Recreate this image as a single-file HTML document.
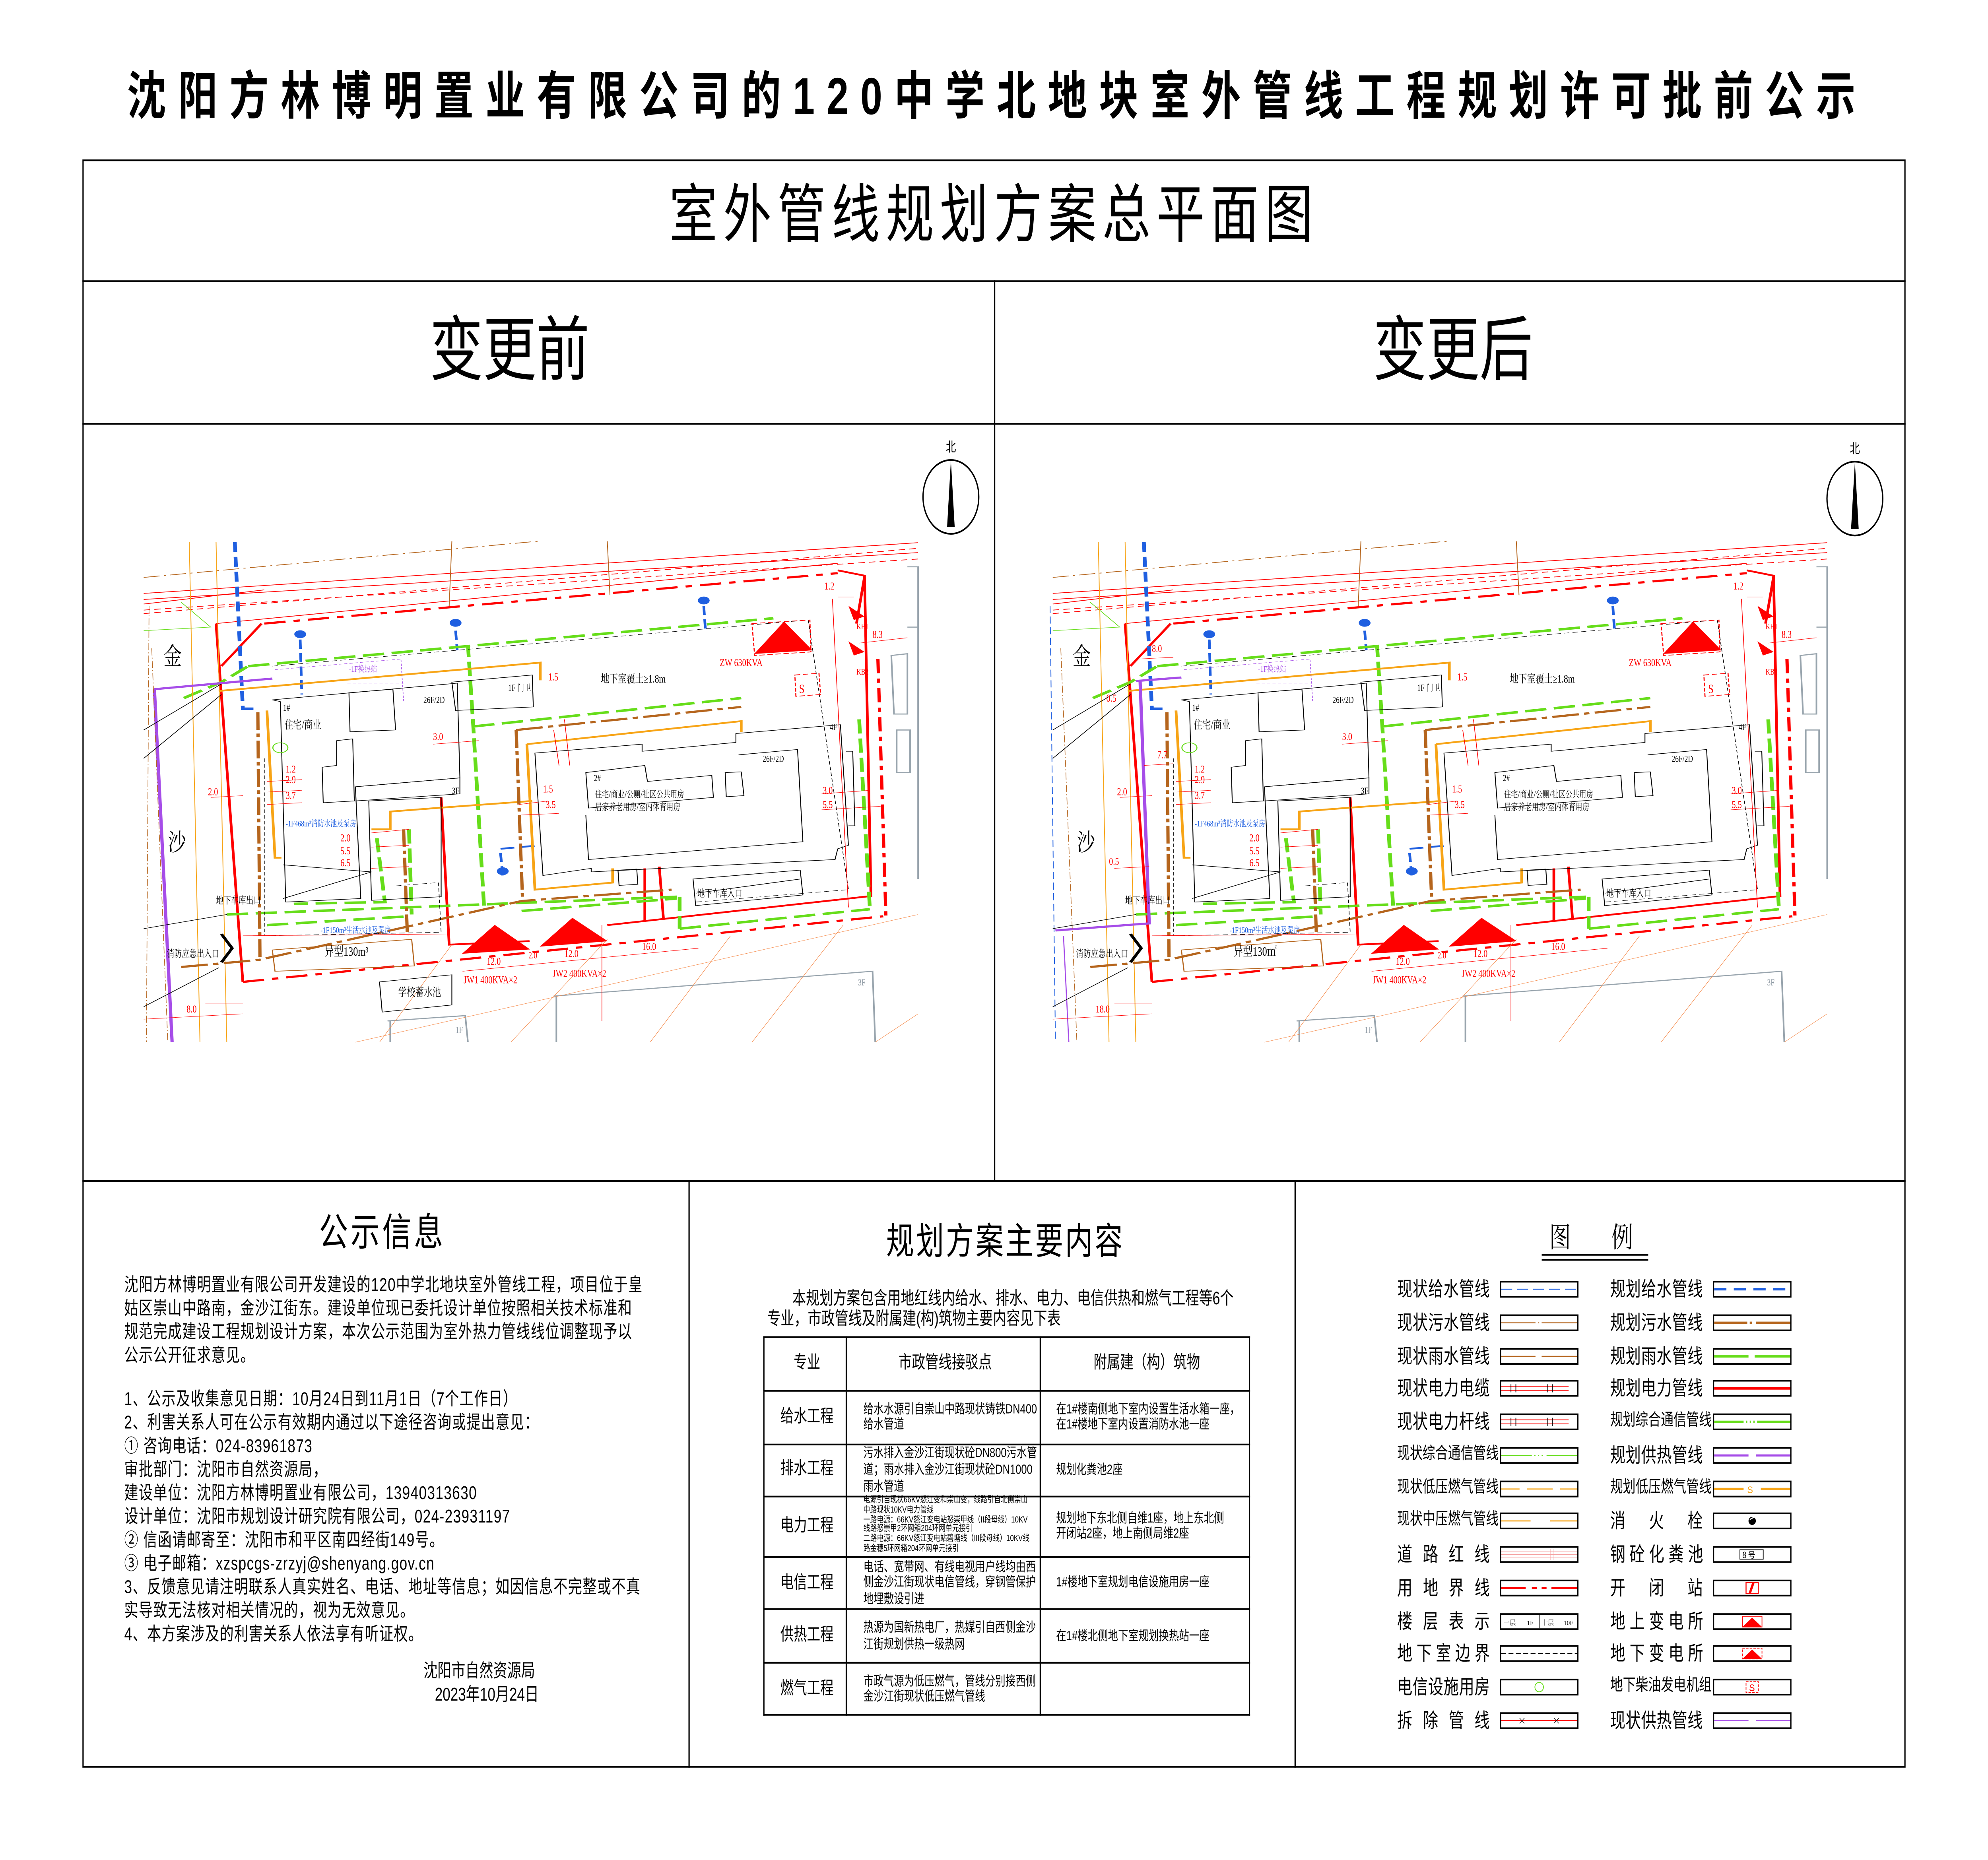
<!DOCTYPE html>
<html><head><meta charset="utf-8">
<style>
html,body{margin:0;padding:0;background:#fff;width:100vw;height:100vh;overflow:hidden;}
#root{position:absolute;left:0;top:0;width:100vw;height:100vh;display:block;}
#w{position:relative;width:1568px;height:1108px;font-family:"Liberation Sans","Noto Sans CJK SC",sans-serif;color:#000;background:#fff;overflow:hidden;}
.a{position:absolute;white-space:pre;line-height:1;}
.hl{position:absolute;height:0;border-top:1px solid #000;}
.vl{position:absolute;width:0;border-left:1px solid #000;}
.p{font-size:11px;letter-spacing:0.45px;left:98px;}
.lg{position:absolute;font-size:12px;width:73px;text-align:justify;text-align-last:justify;line-height:1;white-space:nowrap;}
.bx{position:absolute;width:62px;height:10px;border:1px solid #000;box-sizing:border-box;}
.bx svg{display:block;width:100%;height:100%;}
td{border:1px solid #000;padding:0 0 0 3px;}
</style></head><body>
<svg id="root" viewBox="0 0 1568 1108" preserveAspectRatio="none" xmlns="http://www.w3.org/2000/svg">
<foreignObject x="0" y="0" width="1568" height="1108">
<div xmlns="http://www.w3.org/1999/xhtml" id="w">
<div class="a" style="left:70px;top:42px;width:1433px;text-align:center;font-size:31px;font-weight:bold;letter-spacing:9.4px;">沈阳方林博明置业有限公司的120中学北地块室外管线工程规划许可批前公示</div>

<div style="position:absolute;left:65px;top:95px;width:1438px;height:958px;border:1px solid #000;box-sizing:border-box;"></div>
<div class="hl" style="left:65px;top:167px;width:1438px;"></div>
<div class="hl" style="left:65px;top:252px;width:1438px;"></div>
<div class="hl" style="left:65px;top:703px;width:1438px;"></div>
<div class="vl" style="left:784px;top:167px;height:536px;"></div>
<div class="vl" style="left:543px;top:703px;height:350px;"></div>
<div class="vl" style="left:1021px;top:703px;height:350px;"></div>

<div class="a" style="left:400px;top:110px;width:768px;text-align:center;font-size:38px;letter-spacing:4.7px;">室外管线规划方案总平面图</div>
<div class="a" style="left:300px;top:188px;width:204px;text-align:center;font-size:42px;">变更前</div>
<div class="a" style="left:1044px;top:188px;width:204px;text-align:center;font-size:42px;">变更后</div>

<svg style="position:absolute;left:720px;top:258px;" width="60" height="64" viewBox="0 0 60 64">
<text x="30" y="11" font-size="8" text-anchor="middle" font-family="Noto Sans CJK SC">北</text>
<circle cx="30" cy="38" r="22" fill="none" stroke="#000" stroke-width="1"/>
<path d="M30 16 L33 56 L27 56 Z" fill="#000"/></svg>
<svg style="position:absolute;left:1433px;top:259px;" width="60" height="64" viewBox="0 0 60 64">
<text x="30" y="11" font-size="8" text-anchor="middle" font-family="Noto Sans CJK SC">北</text>
<circle cx="30" cy="38" r="22" fill="none" stroke="#000" stroke-width="1"/>
<path d="M30 16 L33 56 L27 56 Z" fill="#000"/></svg>

<!-- MAP LEFT -->
<svg style="position:absolute;left:106.5px;top:307.7px;" width="662.8" height="331.5" viewBox="0 0 1568 784" font-family="Liberation Serif,Noto Serif CJK SC,serif">
<g transform="scale(1,0.5)" fill="none" stroke-linecap="butt">
<path d="M15 170 L750 68" stroke="#b5651d" stroke-width="2" stroke-dasharray="30 8 4 8"/>
<path d="M15 215 L1460 72 M15 232 L1460 100 M150 300 L1310 130 M15 245 L240 205" stroke="#f00" stroke-width="2"/>
<path d="M15 272 L1460 88 M15 262 L1460 118" stroke="#f00" stroke-width="2" stroke-dasharray="12 8"/>
<path d="M880 68 L885 220 M590 68 L585 250" stroke="#b5651d" stroke-width="1.5"/>
<path d="M240 300 L1310 158 M1385 400 L1400 1130 M200 1310 L1395 1125" stroke="#f00" stroke-width="6" stroke-dasharray="40 15 12 15"/>
<path d="M150 300 L200 1310 M1310 150 L1360 165 L1372 1068 L880 1150 M1360 168 L1345 300 M950 990 L950 1140 M977 985 L985 1135 M570 790 L585 1205 L735 1195 M160 420 L235 300" stroke="#f00" stroke-width="5"/>
<path d="M185 70 L200 540 L232 540" stroke="#1f5fe0" stroke-width="7" stroke-dasharray="28 14"/>
<path d="M307 345 L310 500 M597 320 L600 375 M1060 250 L1063 315 M685 1010 L680 935 L755 925" stroke="#1f5fe0" stroke-width="5" stroke-dasharray="26 12"/>
<path d="M210 420 L1190 285 M90 510 L160 465 L210 420 M630 590 L1130 510 M170 1120 L1010 1070 M245 1150 L510 1125 M720 1110 L1010 1075 M1015 1160 L1370 1105 M1350 570 L1370 1105 M1015 1070 L1015 1160 M650 1095 L630 590 L620 360 M510 880 L515 1120 M450 905 L465 1085 L295 1090" stroke="#66dd1a" stroke-width="7" stroke-dasharray="40 14"/>
<path d="M15 320 L140 310 L85 240" stroke="#66dd1a" stroke-width="1.5"/>
<path d="M155 490 L755 410 L755 460 M730 640 L1130 575 L1130 605 M730 640 L745 1050 L890 1030 L890 990 M440 880 L475 880 L475 830 L560 820 L740 800 M245 545 L260 960 L272 960" stroke="#f7a416" stroke-width="5"/>
<path d="M100 70 L120 1480 M150 70 L170 1480" stroke="#f7a416" stroke-width="1.5"/>
<path d="M710 600 L1130 535 M710 600 L722 1080 M85 1268 L230 1248 L720 1082 L1000 1050 M228 550 L232 1250 M500 880 L507 1180" stroke="#b5651d" stroke-width="6" stroke-dasharray="50 10 10 10"/>
<path d="M35 485 L255 455 M35 485 L68 1480" stroke="#a64de8" stroke-width="6"/>
<path d="M260 430 L495 400 L500 520 M395 470 L500 470" stroke="#a64de8" stroke-width="1.2" stroke-dasharray="6 4"/>
<path d="M30 370 L60 1480 M25 250 L20 1480" stroke="#b5651d" stroke-width="1.2" stroke-dasharray="20 6 3 6"/>
<path d="M15 600 L160 470 M15 680 L160 500 M15 1380 L155 1270 M15 1160 L170 1120" stroke="#000" stroke-width="1.5"/>
<g stroke="#000" stroke-width="1.6">
<path d="M255 515 L600 468 L605 735 L410 760 L420 1075 L280 1085 L270 520 Z"/>
<path d="M398 495 L480 485 L485 600 L400 605 Z M590 465 L740 445 L742 535 L597 545 Z"/>
<path d="M348 705 L375 700 L375 630 L405 625 L408 800 L350 805 Z M410 760 L605 735 L605 780 L410 800"/>
<path d="M435 800 L570 790 L570 1070 L440 1080 Z M275 980 L440 1000 M275 1075 L440 1000"/>
<path d="M745 665 L945 640 L945 660 L1120 635 L1120 610 L1315 585 L1330 925 L1310 935 L1305 965 L850 1000 L850 990 L760 1010 Z"/>
<path d="M840 720 L950 700 L955 745 L1075 728 L1078 790 L845 820 Z M1125 670 L1235 655 L1245 915 L845 965 L840 840"/>
<path d="M1100 720 L1130 718 L1135 785 L1102 788 Z M1325 660 L1338 660 L1342 870 L1330 870"/>
<path d="M1040 1020 L1240 995 L1245 1065 L1045 1095 Z M1045 1060 L1240 1020"/>
<path d="M900 995 L935 992 L937 1035 L902 1038 Z"/>
<path d="M455 1310 L590 1290 L590 1375 L460 1395 Z"/>
</g>
<path d="M255 420 L1255 290 L1330 1050 L1045 1085 M240 680 L240 1180 L570 1170 L565 1030 L480 1040" stroke="#000" stroke-width="1.2" stroke-dasharray="10 6"/>
<path d="M255 1220 L515 1190 L520 1265 L260 1280 Z" stroke="#b5651d" stroke-width="2"/>
<path d="M780 1350 L1375 1280 L1380 1480 M785 1350 L785 1480 M470 1420 L615 1405 L620 1480 M475 1420 L475 1480 M1410 390 L1440 385 L1440 555 L1415 555 Z M1420 600 L1445 600 L1445 720 L1420 720 Z M1440 310 L1460 310 M1440 140 L1460 140 L1460 1020" stroke="#98a4ad" stroke-width="3"/>
<path d="M410 1480 L1460 1120 M455 1480 L590 1205 M700 1480 L880 1190 M960 1480 L1110 1180 M1150 1480 L1320 1150 M1380 1480 L1460 1400" stroke="#f58a4a" stroke-width="1"/>
<path d="M1150 300 L1258 290 L1260 380 L1155 390 Z M1230 445 L1275 440 L1278 500 L1232 505 Z" stroke="#f00" stroke-width="2" stroke-dasharray="10 5"/>
<path d="M1155 385 L1210 295 L1262 375 Z M610 1230 L670 1150 L735 1218 Z M755 1210 L815 1130 L880 1195 Z" fill="#f00" stroke="#f00"/>
<path d="M1330 250 L1360 280 L1340 290 Z M1330 350 L1360 380 L1340 390 Z" fill="#f00"/>
<path d="M130 1370 L200 1370 M15 1415 L200 1400 M200 1180 L580 1175 M610 1280 L1050 1215 M870 1150 L870 1420 M1300 230 L1330 1100 M1310 225 L1340 225 M1280 780 L1370 770 M1280 825 L1390 815 M440 890 L510 880 M440 930 L510 925 M440 990 L510 985 M555 640 L640 630 M715 810 L770 800 M715 840 L790 835 M245 745 L310 740 M245 775 L310 770 M245 810 L310 805 M140 790 L200 785 M1350 355 L1440 340 M800 570 L810 700 M780 600 L790 700" stroke="#f00" stroke-width="1.2"/>
<circle cx="307" cy="330" r="11" fill="#1f5fe0"/><circle cx="597" cy="298" r="11" fill="#1f5fe0"/><circle cx="1060" cy="235" r="11" fill="#1f5fe0"/><circle cx="685" cy="998" r="11" fill="#1f5fe0"/>
<circle cx="270" cy="650" r="14" stroke="#66dd1a" stroke-width="2"/>
<path d="M160 1175 L180 1215 L160 1255" stroke="#000" stroke-width="6"/>
</g>
<g font-size="15" fill="#f00">
<text x="1285" y="102">1.2</text><text x="1375" y="170">8.3</text><text x="1090" y="210">ZW 630KVA</text>
<text x="770" y="230">1.5</text><text x="555" y="314">3.0</text><text x="280" y="360">1.2</text><text x="280" y="375">2.9</text><text x="280" y="397">3.7</text>
<text x="135" y="392">2.0</text><text x="382" y="457">2.0</text><text x="382" y="475">5.5</text><text x="382" y="492">6.5</text>
<text x="760" y="388">1.5</text><text x="765" y="410">3.5</text><text x="1282" y="390">3.0</text><text x="1282" y="410">5.5</text>
<text x="655" y="631">12.0</text><text x="800" y="620">12.0</text><text x="945" y="610">16.0</text><text x="733" y="622" font-size="13">2.0</text>
<text x="612" y="657">JW1 400KVA×2</text><text x="778" y="648">JW2 400KVA×2</text><text x="95" y="698">8.0</text>
<text x="1345" y="158" font-size="12">KB1</text><text x="1345" y="222" font-size="12">KB2</text>
</g>
<g font-size="13" fill="#000">
<text x="52" y="208" font-size="34" font-family="Noto Serif CJK SC,serif">金</text>
<text x="60" y="470" font-size="34" font-family="Noto Serif CJK SC,serif">沙</text>
<text x="868" y="233" font-size="16">地下室覆土≥1.8m</text>
<text x="275" y="273">1#</text><text x="278" y="298" font-size="16">住宅/商业</text>
<text x="537" y="262">26F/2D</text><text x="695" y="245">1F 门卫</text><text x="590" y="390">3F</text>
<text x="855" y="372">2#</text><text x="857" y="395">住宅/商业/公厕/社区公共用房</text><text x="857" y="413">居家养老用房/室内体育用房</text>
<text x="1170" y="345">26F/2D</text><text x="1295" y="300">4F</text>
<text x="1048" y="535" font-size="14">地下车库入口</text><text x="150" y="545" font-size="14">地下车库出口</text>
<text x="58" y="620" font-size="14">消防应急出入口</text><text x="352" y="618" font-size="18">异型130m³</text>
<text x="490" y="675" font-size="16">学校蓄水池</text>
<text x="597" y="727" fill="#8a96a0">1F</text><text x="1348" y="660" fill="#8a96a0">3F</text>
</g>
<g font-size="12" fill="#1f5fe0"><text x="280" y="436">-1F468m³消防水池及泵房</text><text x="345" y="586">-1F150m³生活水池及泵房</text></g>
<text x="398" y="218" font-size="12" fill="#a64de8">-1F换热站</text>
<text x="1238" y="248" font-size="18" fill="#f00">S</text>
</svg>

<!-- MAP RIGHT -->
<svg style="position:absolute;left:823.8px;top:307.7px;" width="662.8" height="331.5" viewBox="0 0 1568 784" font-family="Liberation Serif,Noto Serif CJK SC,serif">
<g transform="scale(1,0.5)" fill="none" stroke-linecap="butt">
<path d="M15 170 L750 68" stroke="#b5651d" stroke-width="2" stroke-dasharray="30 8 4 8"/>
<path d="M15 215 L1460 72 M15 232 L1460 100 M150 300 L1310 130 M15 245 L240 205" stroke="#f00" stroke-width="2"/>
<path d="M15 272 L1460 88 M15 262 L1460 118" stroke="#f00" stroke-width="2" stroke-dasharray="12 8"/>
<path d="M880 68 L885 220 M590 68 L585 250" stroke="#b5651d" stroke-width="1.5"/>
<path d="M240 300 L1310 158 M1385 400 L1400 1130 M200 1310 L1395 1125" stroke="#f00" stroke-width="6" stroke-dasharray="40 15 12 15"/>
<path d="M150 300 L200 1310 M1310 150 L1360 165 L1372 1068 L880 1150 M1360 168 L1345 300 M950 990 L950 1140 M977 985 L985 1135 M570 790 L585 1205 L735 1195 M160 420 L235 300" stroke="#f00" stroke-width="5"/>
<path d="M185 70 L200 540 L232 540" stroke="#1f5fe0" stroke-width="7" stroke-dasharray="28 14"/>
<path d="M307 345 L310 500 M597 320 L600 375 M1060 250 L1063 315 M685 1010 L680 935 L755 925" stroke="#1f5fe0" stroke-width="5" stroke-dasharray="26 12"/>
<path d="M210 420 L1190 285 M90 510 L160 465 L210 420 M630 590 L1130 510 M170 1120 L1010 1070 M245 1150 L510 1125 M720 1110 L1010 1075 M1015 1160 L1370 1105 M1350 570 L1370 1105 M1015 1070 L1015 1160 M650 1095 L630 590 L620 360 M510 880 L515 1120 M450 905 L465 1085 L295 1090" stroke="#66dd1a" stroke-width="7" stroke-dasharray="40 14"/>
<path d="M15 320 L140 310 L85 240" stroke="#66dd1a" stroke-width="1.5"/>
<path d="M155 490 L755 410 L755 460 M730 640 L1130 575 L1130 605 M730 640 L745 1050 L890 1030 L890 990 M440 880 L475 880 L475 830 L560 820 L740 800 M245 545 L260 960 L272 960" stroke="#f7a416" stroke-width="5"/>
<path d="M100 70 L120 1480 M150 70 L170 1480" stroke="#f7a416" stroke-width="1.5"/>
<path d="M710 600 L1130 535 M710 600 L722 1080 M85 1268 L230 1248 L720 1082 L1000 1050 M228 550 L232 1250 M500 880 L507 1180" stroke="#b5651d" stroke-width="6" stroke-dasharray="50 10 10 10"/>
<path d="M170 462 L255 452 M178 462 L195 1145 L20 1165" stroke="#a64de8" stroke-width="6"/>
<path d="M35 1180 L45 1480" stroke="#a64de8" stroke-width="2"/>
<path d="M260 430 L495 400 L500 520 M395 470 L500 470" stroke="#a64de8" stroke-width="1.2" stroke-dasharray="6 4"/>
<path d="M30 370 L60 1480" stroke="#b5651d" stroke-width="1.2" stroke-dasharray="20 6 3 6"/>
<path d="M10 250 L20 1480" stroke="#1f5fe0" stroke-width="1.5" stroke-dasharray="20 10"/>
<path d="M15 600 L160 470 M15 680 L160 500 M15 1380 L155 1270 M15 1160 L170 1120" stroke="#000" stroke-width="1.5"/>
<g stroke="#000" stroke-width="1.6">
<path d="M255 515 L600 468 L605 735 L410 760 L420 1075 L280 1085 L270 520 Z"/>
<path d="M398 495 L480 485 L485 600 L400 605 Z M590 465 L740 445 L742 535 L597 545 Z"/>
<path d="M348 705 L375 700 L375 630 L405 625 L408 800 L350 805 Z M410 760 L605 735 L605 780 L410 800"/>
<path d="M435 800 L570 790 L570 1070 L440 1080 Z M275 980 L440 1000 M275 1075 L440 1000"/>
<path d="M745 665 L945 640 L945 660 L1120 635 L1120 610 L1315 585 L1330 925 L1310 935 L1305 965 L850 1000 L850 990 L760 1010 Z"/>
<path d="M840 720 L950 700 L955 745 L1075 728 L1078 790 L845 820 Z M1125 670 L1235 655 L1245 915 L845 965 L840 840"/>
<path d="M1100 720 L1130 718 L1135 785 L1102 788 Z M1325 660 L1338 660 L1342 870 L1330 870"/>
<path d="M1040 1020 L1240 995 L1245 1065 L1045 1095 Z M1045 1060 L1240 1020"/>
<path d="M900 995 L935 992 L937 1035 L902 1038 Z"/>
</g>
<path d="M255 420 L1255 290 L1330 1050 L1045 1085 M240 680 L240 1180 L570 1170 L565 1030 L480 1040" stroke="#000" stroke-width="1.2" stroke-dasharray="10 6"/>
<path d="M255 1220 L515 1190 L520 1265 L260 1280 Z" stroke="#b5651d" stroke-width="2"/>
<path d="M780 1350 L1375 1280 L1380 1480 M785 1350 L785 1480 M470 1420 L615 1405 L620 1480 M475 1420 L475 1480 M1410 390 L1440 385 L1440 555 L1415 555 Z M1420 600 L1445 600 L1445 720 L1420 720 Z M1440 310 L1460 310 M1440 140 L1460 140 L1460 1020" stroke="#98a4ad" stroke-width="3"/>
<path d="M410 1480 L1460 1120 M455 1480 L590 1205 M700 1480 L880 1190 M960 1480 L1110 1180 M1150 1480 L1320 1150 M1380 1480 L1460 1400" stroke="#f58a4a" stroke-width="1"/>
<path d="M1150 300 L1258 290 L1260 380 L1155 390 Z M1230 445 L1275 440 L1278 500 L1232 505 Z" stroke="#f00" stroke-width="2" stroke-dasharray="10 5"/>
<path d="M1155 385 L1210 295 L1262 375 Z M610 1230 L670 1150 L735 1218 Z M755 1210 L815 1130 L880 1195 Z" fill="#f00" stroke="#f00"/>
<path d="M1330 250 L1360 280 L1340 290 Z M1330 350 L1360 380 L1340 390 Z" fill="#f00"/>
<path d="M130 1370 L200 1370 M15 1415 L200 1400 M200 1180 L580 1175 M610 1280 L1050 1215 M870 1150 L870 1420 M1300 230 L1330 1100 M1310 225 L1340 225 M1280 780 L1370 770 M1280 825 L1390 815 M440 890 L510 880 M440 930 L510 925 M440 990 L510 985 M555 640 L640 630 M715 810 L770 800 M715 840 L790 835 M245 745 L310 740 M245 775 L310 770 M245 810 L310 805 M140 790 L200 785 M1350 355 L1440 340 M800 570 L810 700 M780 600 L790 700 M175 400 L240 395 M185 700 L240 695 M130 990 L195 985" stroke="#f00" stroke-width="1.2"/>
<circle cx="307" cy="330" r="11" fill="#1f5fe0"/><circle cx="597" cy="298" r="11" fill="#1f5fe0"/><circle cx="1060" cy="235" r="11" fill="#1f5fe0"/><circle cx="685" cy="998" r="11" fill="#1f5fe0"/>
<circle cx="270" cy="650" r="14" stroke="#66dd1a" stroke-width="2"/>
<path d="M160 1175 L180 1215 L160 1255" stroke="#000" stroke-width="6"/>
</g>
<g font-size="15" fill="#f00">
<text x="1285" y="102">1.2</text><text x="1375" y="170">8.3</text><text x="1090" y="210">ZW 630KVA</text>
<text x="770" y="230">1.5</text><text x="555" y="314">3.0</text><text x="280" y="360">1.2</text><text x="280" y="375">2.9</text><text x="280" y="397">3.7</text>
<text x="135" y="392">2.0</text><text x="382" y="457">2.0</text><text x="382" y="475">5.5</text><text x="382" y="492">6.5</text>
<text x="760" y="388">1.5</text><text x="765" y="410">3.5</text><text x="1282" y="390">3.0</text><text x="1282" y="410">5.5</text>
<text x="655" y="631">12.0</text><text x="800" y="620">12.0</text><text x="945" y="610">16.0</text><text x="733" y="622" font-size="13">2.0</text>
<text x="612" y="657">JW1 400KVA×2</text><text x="778" y="648">JW2 400KVA×2</text><text x="95" y="698">18.0</text>
<text x="200" y="190">8.0</text><text x="210" y="340">7.7</text><text x="120" y="490">0.5</text><text x="115" y="260">0.5</text>
<text x="1345" y="158" font-size="12">KB1</text><text x="1345" y="222" font-size="12">KB2</text>
</g>
<g font-size="13" fill="#000">
<text x="52" y="208" font-size="34" font-family="Noto Serif CJK SC,serif">金</text>
<text x="60" y="470" font-size="34" font-family="Noto Serif CJK SC,serif">沙</text>
<text x="868" y="233" font-size="16">地下室覆土≥1.8m</text>
<text x="275" y="273">1#</text><text x="278" y="298" font-size="16">住宅/商业</text>
<text x="537" y="262">26F/2D</text><text x="695" y="245">1F 门卫</text><text x="590" y="390">3F</text>
<text x="855" y="372">2#</text><text x="857" y="395">住宅/商业/公厕/社区公共用房</text><text x="857" y="413">居家养老用房/室内体育用房</text>
<text x="1170" y="345">26F/2D</text><text x="1295" y="300">4F</text>
<text x="1048" y="535" font-size="14">地下车库入口</text><text x="150" y="545" font-size="14">地下车库出口</text>
<text x="58" y="620" font-size="14">消防应急出入口</text><text x="352" y="618" font-size="18">异型130㎡</text>
<text x="597" y="727" fill="#8a96a0">1F</text><text x="1348" y="660" fill="#8a96a0">3F</text>
</g>
<g font-size="12" fill="#1f5fe0"><text x="280" y="436">-1F468m³消防水池及泵房</text><text x="345" y="586">-1F150m³生活水池及泵房</text></g>
<text x="398" y="218" font-size="12" fill="#a64de8">-1F换热站</text>
<text x="1238" y="248" font-size="18" fill="#f00">S</text>
</svg>

<!-- 公示信息 -->
<div class="a" style="left:200px;top:723px;width:203px;text-align:center;font-size:23px;letter-spacing:2px;">公示信息</div>
<div class="a p" style="top:761px;">沈阳方林博明置业有限公司开发建设的120中学北地块室外管线工程，项目位于皇</div>
<div class="a p" style="top:775px;">姑区崇山中路南，金沙江街东。建设单位现已委托设计单位按照相关技术标准和</div>
<div class="a p" style="top:789px;">规范完成建设工程规划设计方案，本次公示范围为室外热力管线线位调整现予以</div>
<div class="a p" style="top:803px;">公示公开征求意见。</div>
<div class="a p" style="top:829px;">1、公示及收集意见日期：10月24日到11月1日（7个工作日）</div>
<div class="a p" style="top:843px;">2、利害关系人可在公示有效期内通过以下途径咨询或提出意见：</div>
<div class="a p" style="top:857px;">① 咨询电话：024-83961873</div>
<div class="a p" style="top:871px;">审批部门：沈阳市自然资源局，</div>
<div class="a p" style="top:885px;">建设单位：沈阳方林博明置业有限公司，13940313630</div>
<div class="a p" style="top:899px;">设计单位：沈阳市规划设计研究院有限公司，024-23931197</div>
<div class="a p" style="top:913px;">② 信函请邮寄至：沈阳市和平区南四经街149号。</div>
<div class="a p" style="top:927px;">③ 电子邮箱：xzspcgs-zrzyj@shenyang.gov.cn</div>
<div class="a p" style="top:941px;">3、反馈意见请注明联系人真实姓名、电话、地址等信息；如因信息不完整或不真</div>
<div class="a p" style="top:955px;">实导致无法核对相关情况的，视为无效意见。</div>
<div class="a p" style="top:969px;">4、本方案涉及的利害关系人依法享有听证权。</div>
<div class="a" style="left:334px;top:991px;font-size:11px;">沈阳市自然资源局</div>
<div class="a" style="left:343px;top:1005px;font-size:11px;">2023年10月24日</div>

<!-- 规划方案主要内容 -->
<div class="a" style="left:640px;top:729px;width:306px;text-align:center;font-size:22px;letter-spacing:1.5px;">规划方案主要内容</div>
<div class="a" style="left:625px;top:769px;font-size:10.7px;">本规划方案包含用地红线内给水、排水、电力、电信供热和燃气工程等6个</div>
<div class="a" style="left:605px;top:781px;font-size:10.7px;">专业，市政管线及附属建(构)筑物主要内容见下表</div>
<table style="position:absolute;left:602px;top:796px;width:383px;height:222px;border-collapse:collapse;font-size:8px;line-height:1.2;table-layout:fixed;">
<colgroup><col style="width:65px"/><col style="width:153px"/><col style="width:165px"/></colgroup>
<tr style="height:32px;font-size:10.5px;text-align:center;"><td>专业</td><td>市政管线接驳点</td><td>附属建（构）筑物</td></tr>
<tr style="height:31.5px"><td style="font-size:10.5px;text-align:center;">给水工程</td><td style="padding-left:13px">给水水源引自崇山中路现状铸铁DN400<br/>给水管道</td><td style="padding-left:12px">在1#楼南侧地下室内设置生活水箱一座，<br/>在1#楼地下室内设置消防水池一座</td></tr>
<tr style="height:31.5px"><td style="font-size:10.5px;text-align:center;">排水工程</td><td style="padding-left:13px">污水排入金沙江街现状砼DN800污水管<br/>道；雨水排入金沙江街现状砼DN1000<br/>雨水管道</td><td style="padding-left:12px">规划化粪池2座</td></tr>
<tr style="height:31.5px"><td style="font-size:10.5px;text-align:center;">电力工程</td><td style="padding-left:13px;font-size:5.3px;line-height:1.1;">电源引自现状66KV怒江变和崇山变，线路引自北侧崇山<br/>中路现状10KV电力管线<br/>一路电源：66KV怒江变电站怒崇甲线（II段母线）10KV<br/>线路怒崇甲2环网箱204环网单元接引<br/>二路电源：66KV怒江变电站碧塘线（III段母线）10KV线<br/>路金穗5环网箱204环网单元接引</td><td style="padding-left:12px">规划地下东北侧自维1座，地上东北侧<br/>开闭站2座，地上南侧局维2座</td></tr>
<tr style="height:31.5px"><td style="font-size:10.5px;text-align:center;">电信工程</td><td style="padding-left:13px">电话、宽带网、有线电视用户线均由西<br/>侧金沙江街现状电信管线，穿钢管保护<br/>地埋敷设引进</td><td style="padding-left:12px">1#楼地下室规划电信设施用房一座</td></tr>
<tr style="height:31.5px"><td style="font-size:10.5px;text-align:center;">供热工程</td><td style="padding-left:13px">热源为国新热电厂，热媒引自西侧金沙<br/>江街规划供热一级热网</td><td style="padding-left:12px">在1#楼北侧地下室规划换热站一座</td></tr>
<tr style="height:31.5px"><td style="font-size:10.5px;text-align:center;">燃气工程</td><td style="padding-left:13px">市政气源为低压燃气，管线分别接西侧<br/>金沙江街现状低压燃气管线</td><td></td></tr>
</table>

<!-- 图例 -->
<div class="a" style="left:1222px;top:727px;font-size:17px;font-family:'Noto Serif CJK SC',serif;">图<span style="display:inline-block;width:32px"></span>例</div>
<div class="hl" style="left:1216px;top:747px;width:84px;border-top:1.5px solid #000;"></div>
<div class="hl" style="left:1216px;top:750px;width:84px;"></div>

<div class="lg" style="left:1102px;top:762px">现状给水管线</div>
<div class="lg" style="left:1102px;top:782px">现状污水管线</div>
<div class="lg" style="left:1102px;top:802px">现状雨水管线</div>
<div class="lg" style="left:1102px;top:821px">现状电力电缆</div>
<div class="lg" style="left:1102px;top:841px">现状电力杆线</div>
<div class="lg" style="left:1102px;top:862px;font-size:10px">现状综合通信管线</div>
<div class="lg" style="left:1102px;top:882px;font-size:10px">现状低压燃气管线</div>
<div class="lg" style="left:1102px;top:901px;font-size:10px">现状中压燃气管线</div>
<div class="lg" style="left:1102px;top:920px">道 路 红 线</div>
<div class="lg" style="left:1102px;top:940px">用 地 界 线</div>
<div class="lg" style="left:1102px;top:960px">楼 层 表 示</div>
<div class="lg" style="left:1102px;top:979px">地下室边界</div>
<div class="lg" style="left:1102px;top:999px">电信设施用房</div>
<div class="lg" style="left:1102px;top:1019px">拆 除 管 线</div>

<div class="lg" style="left:1270px;top:762px">规划给水管线</div>
<div class="lg" style="left:1270px;top:782px">规划污水管线</div>
<div class="lg" style="left:1270px;top:802px">规划雨水管线</div>
<div class="lg" style="left:1270px;top:821px">规划电力管线</div>
<div class="lg" style="left:1270px;top:842px;font-size:10px">规划综合通信管线</div>
<div class="lg" style="left:1270px;top:861px">规划供热管线</div>
<div class="lg" style="left:1270px;top:882px;font-size:10px">规划低压燃气管线</div>
<div class="lg" style="left:1270px;top:900px">消 火 栓</div>
<div class="lg" style="left:1270px;top:920px">钢 砼 化 粪 池</div>
<div class="lg" style="left:1270px;top:940px">开 闭 站</div>
<div class="lg" style="left:1270px;top:960px">地 上 变 电 所</div>
<div class="lg" style="left:1270px;top:979px">地 下 变 电 所</div>
<div class="lg" style="left:1270px;top:1000px;font-size:10px">地下柴油发电机组</div>
<div class="lg" style="left:1270px;top:1019px">现状供热管线</div>

<div class="bx" style="left:1183px;top:763px"><svg viewBox="0 0 62 10" preserveAspectRatio="none"><path d="M0 5 H62" stroke="#1f5fe0" stroke-width="0.8" stroke-dasharray="9 4"/></svg></div>
<div class="bx" style="left:1183px;top:783px"><svg viewBox="0 0 62 10" preserveAspectRatio="none"><path d="M0 5 H28 M30 5 H31 M33 5 H62" stroke="#b5651d" stroke-width="0.8"/></svg></div>
<div class="bx" style="left:1183px;top:803px"><svg viewBox="0 0 62 10" preserveAspectRatio="none"><path d="M0 5 H28 M33 5 H62" stroke="#b5651d" stroke-width="0.8"/></svg></div>
<div class="bx" style="left:1183px;top:822px"><svg viewBox="0 0 62 10" preserveAspectRatio="none"><path d="M0 3.5 H55 M0 6.5 H55" stroke="#f00" stroke-width="0.6"/><path d="M8 2 v3 M12 2 v3 M38 2 v3 M42 2 v3 M8 5 v3 M12 5 v3 M38 5 v3 M42 5 v3" stroke="#000" stroke-width="0.6"/></svg></div>
<div class="bx" style="left:1183px;top:842px"><svg viewBox="0 0 62 10" preserveAspectRatio="none"><path d="M0 3.5 H55 M0 6.5 H55" stroke="#f00" stroke-width="0.6"/><path d="M8 2 v3 M12 2 v3 M38 2 v3 M42 2 v3 M8 5 v3 M12 5 v3 M38 5 v3 M42 5 v3" stroke="#000" stroke-width="0.6"/></svg></div>
<div class="bx" style="left:1183px;top:862px"><svg viewBox="0 0 62 10" preserveAspectRatio="none"><path d="M0 5 H25 M27 5 h1 M30 5 h1 M33 5 h1 M37 5 H62" stroke="#66dd1a" stroke-width="0.8"/></svg></div>
<div class="bx" style="left:1183px;top:882px"><svg viewBox="0 0 62 10" preserveAspectRatio="none"><path d="M0 5 H15 M21 5 H42 M48 5 H62" stroke="#f7a416" stroke-width="0.8"/></svg></div>
<div class="bx" style="left:1183px;top:901px"><svg viewBox="0 0 62 10" preserveAspectRatio="none"><path d="M0 5 H24 M40 5 H62" stroke="#f7a416" stroke-width="0.8"/></svg></div>
<div class="bx" style="left:1183px;top:921px"><svg viewBox="0 0 62 10" preserveAspectRatio="none"><path d="M0 3 H62 M0 5 H62 M0 7 H62 M40 1 V9 M43 1 V9" stroke="#f5a0a0" stroke-width="0.4"/></svg></div>
<div class="bx" style="left:1183px;top:941px"><svg viewBox="0 0 62 10" preserveAspectRatio="none"><path d="M0 5 H20 M25 5 H29 M33 5 H37 M41 5 H62" stroke="#f00" stroke-width="1.6"/></svg></div>
<div class="bx" style="left:1183px;top:961px"><svg viewBox="0 0 62 10" preserveAspectRatio="none"><path d="M31 0 V10" stroke="#000" stroke-width="0.6"/><text x="2" y="7.5" font-size="5" font-family="Noto Serif CJK SC,serif">一层</text><text x="21" y="7.5" font-size="5" font-family="Liberation Serif">1F</text><text x="33" y="7.5" font-size="5" font-family="Noto Serif CJK SC,serif">十层</text><text x="51" y="7.5" font-size="5" font-family="Liberation Serif">10F</text></svg></div>
<div class="bx" style="left:1183px;top:980px"><svg viewBox="0 0 62 10" preserveAspectRatio="none"><path d="M0 5 H62" stroke="#000" stroke-width="0.5" stroke-dasharray="4 2"/></svg></div>
<div class="bx" style="left:1183px;top:1000px"><svg viewBox="0 0 62 10" preserveAspectRatio="none"><circle cx="31" cy="5" r="3.5" fill="none" stroke="#66dd1a" stroke-width="0.6"/></svg></div>
<div class="bx" style="left:1183px;top:1020px"><svg viewBox="0 0 62 10" preserveAspectRatio="none"><path d="M0 5 H62" stroke="#f00" stroke-width="0.9"/><path d="M15 3 l4 4 M19 3 l-4 4 M43 3 l4 4 M47 3 l-4 4" stroke="#000" stroke-width="0.4"/></svg></div>
<div class="bx" style="left:1351px;top:763px"><svg viewBox="0 0 62 10" preserveAspectRatio="none"><path d="M0 5 H62" stroke="#1f5fe0" stroke-width="1.8" stroke-dasharray="10 6"/></svg></div>
<div class="bx" style="left:1351px;top:783px"><svg viewBox="0 0 62 10" preserveAspectRatio="none"><path d="M0 5 H27 M29 5 H31 M34 5 H62" stroke="#b5651d" stroke-width="1.8"/></svg></div>
<div class="bx" style="left:1351px;top:803px"><svg viewBox="0 0 62 10" preserveAspectRatio="none"><path d="M0 5 H28 M33 5 H62" stroke="#66dd1a" stroke-width="1.8"/></svg></div>
<div class="bx" style="left:1351px;top:822px"><svg viewBox="0 0 62 10" preserveAspectRatio="none"><path d="M0 5 H62" stroke="#f00" stroke-width="2"/></svg></div>
<div class="bx" style="left:1351px;top:842px"><svg viewBox="0 0 62 10" preserveAspectRatio="none"><path d="M0 5 H24 M26 5 h1 M29 5 h1 M32 5 h1 M35 5 H62" stroke="#66dd1a" stroke-width="1.8"/></svg></div>
<div class="bx" style="left:1351px;top:862px"><svg viewBox="0 0 62 10" preserveAspectRatio="none"><path d="M0 5 H28 M34 5 H62" stroke="#a64de8" stroke-width="1.6"/></svg></div>
<div class="bx" style="left:1351px;top:882px"><svg viewBox="0 0 62 10" preserveAspectRatio="none"><path d="M0 5 H24 M38 5 H62" stroke="#f7a416" stroke-width="1.8"/><text x="27" y="8" font-size="7" fill="#f7a416">S</text></svg></div>
<div class="bx" style="left:1351px;top:901px"><svg viewBox="0 0 62 10" preserveAspectRatio="none"><circle cx="31" cy="5" r="3" fill="#000"/><path d="M29 4 l4 -2" stroke="#fff" stroke-width="0.8"/></svg></div>
<div class="bx" style="left:1351px;top:921px"><svg viewBox="0 0 62 10" preserveAspectRatio="none"><rect x="21" y="1.5" width="19" height="7" fill="none" stroke="#000" stroke-width="0.6"/><text x="23" y="7.5" font-size="6" font-family="Noto Sans CJK SC">8 号</text></svg></div>
<div class="bx" style="left:1351px;top:941px"><svg viewBox="0 0 62 10" preserveAspectRatio="none"><rect x="26" y="1" width="10" height="8" fill="none" stroke="#f00" stroke-width="0.8"/><path d="M28 9 L31 1 L33 1 L30 9 Z" fill="#f00"/></svg></div>
<div class="bx" style="left:1351px;top:961px"><svg viewBox="0 0 62 10" preserveAspectRatio="none"><rect x="23" y="1" width="16" height="8" fill="none" stroke="#f00" stroke-width="0.6"/><path d="M23 9 L31 2 L39 9 Z" fill="#f00"/></svg></div>
<div class="bx" style="left:1351px;top:980px"><svg viewBox="0 0 62 10" preserveAspectRatio="none"><rect x="23" y="1" width="16" height="8" fill="none" stroke="#f00" stroke-width="0.6" stroke-dasharray="2 1"/><path d="M23 9 L31 2 L39 9 Z" fill="#f00"/></svg></div>
<div class="bx" style="left:1351px;top:1000px"><svg viewBox="0 0 62 10" preserveAspectRatio="none"><rect x="26" y="1" width="10" height="8" fill="none" stroke="#f00" stroke-width="0.6" stroke-dasharray="2 1"/><text x="28.5" y="8" font-size="7" fill="#f00">S</text></svg></div>
<div class="bx" style="left:1351px;top:1020px"><svg viewBox="0 0 62 10" preserveAspectRatio="none"><path d="M0 5 H28 M34 5 H62" stroke="#a64de8" stroke-width="0.8"/></svg></div>
</div>
</foreignObject>
</svg>
</body></html>
